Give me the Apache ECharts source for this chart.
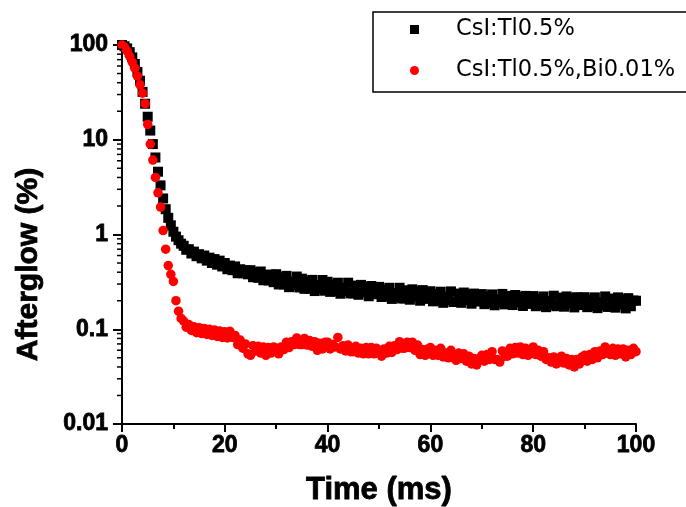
<!DOCTYPE html>
<html>
<head>
<meta charset="utf-8">
<script src="https://cdn.jsdelivr.net/npm/echarts@6/dist/echarts.min.js"></script>
<style>html,body{margin:0;padding:0;background:#fff}#c{width:686px;height:507px}</style>
</head>
<body>
<div id="c"></div>
<script>
var time = [0,0.5,1,1.5,2,2.5,3,3.5,4,4.5,5,5.5,6,6.5,7,7.5,8,8.5,9,9.5,
  10,10.5,11,11.5,12,12.5,13,13.5,14,14.5,15,15.5,16,16.5,17,17.5,18,18.5,19,19.5,
  20,20.5,21,21.5,22,22.5,23,23.5,24,24.5,25,25.5,26,26.5,27,27.5,28,28.5,29,29.5,
  30,30.5,31,31.5,32,32.5,33,33.5,34,34.5,35,35.5,36,36.5,37,37.5,38,38.5,39,39.5,
  40,40.5,41,41.5,42,42.5,43,43.5,44,44.5,45,45.5,46,46.5,47,47.5,48,48.5,49,49.5,
  50,50.5,51,51.5,52,52.5,53,53.5,54,54.5,55,55.5,56,56.5,57,57.5,58,58.5,59,59.5,
  60,60.5,61,61.5,62,62.5,63,63.5,64,64.5,65,65.5,66,66.5,67,67.5,68,68.5,69,69.5,
  70,70.5,71,71.5,72,72.5,73,73.5,74,74.5,75,75.5,76,76.5,77,77.5,78,78.5,79,79.5,
  80,80.5,81,81.5,82,82.5,83,83.5,84,84.5,85,85.5,86,86.5,87,87.5,88,88.5,89,89.5,
  90,90.5,91,91.5,92,92.5,93,93.5,94,94.5,95,95.5,96,96.5,97,97.5,98,98.5,99,99.5,100];
var cslTl = [100,97,92,84,74,63,52,42,32,24,17.5,12.5,9.0,6.5,4.6,3.3,2.4,1.85,1.5,1.25,
  1.07,0.95,0.87,0.8,0.76,0.69,0.70,0.63,0.66,0.59,0.62,0.56,0.60,0.53,0.57,0.50,0.55,0.48,0.53,0.46,
  0.50,0.43,0.47,0.42,0.46,0.39,0.43,0.39,0.42,0.38,
  0.42,0.354,0.40,0.349,0.407,0.329,0.374,0.327,0.378,0.314,
  0.381,0.297,0.354,0.297,0.366,0.278,0.32,0.292,0.36,0.276,
  0.342,0.267,0.318,0.268,0.332,0.253,0.292,0.267,0.331,0.255,
  0.317,0.248,0.298,0.252,0.31,0.237,0.275,0.251,0.31,0.239,
  0.239,0.289,0.231,0.294,0.246,0.279,0.223,0.286,0.234,0.268,
  0.28,0.219,0.262,0.222,0.274,0.209,0.241,0.22,0.274,0.211,
  0.212,0.258,0.205,0.264,0.221,0.252,0.2,0.259,0.209,0.24,
  0.252,0.197,0.237,0.2,0.249,0.19,0.221,0.202,0.251,0.194,
  0.195,0.238,0.19,0.244,0.204,0.232,0.186,0.238,0.196,0.224,
  0.235,0.184,0.221,0.188,0.233,0.179,0.208,0.19,0.236,0.183,
  0.185,0.225,0.18,0.23,0.193,0.219,0.176,0.225,0.185,0.212,
  0.224,0.175,0.211,0.179,0.222,0.171,0.198,0.182,0.226,0.175,
  0.177,0.216,0.173,0.222,0.186,0.212,0.17,0.218,0.18,0.207,
  0.218,0.171,0.206,0.175,0.217,0.167,0.193,0.178,0.222,0.172,
  0.174,0.211,0.169,0.217,0.182,0.206,0.166,0.213,0.175,0.201,
  0.20];
var cslTlBi = [100,95,86,76,66,57,47,38,31,24,14.5,9,6.1,4.0,2.75,1.95,1.1,0.7,0.47,0.38,
  0.32,0.2,0.155,0.13,0.122,0.105,0.112,0.097,0.106,0.092,0.104,0.09,0.102,0.088,0.1,0.086,0.098,0.084,0.096,0.082,
  0.094,0.081,0.095,0.082,0.086,0.069,0.077,0.063,0.07,0.055,
  0.053,0.067,0.059,0.066,0.056,0.065,0.053,0.064,0.056,0.065,
  0.063,0.055,0.065,0.061,0.073,0.064,0.074,0.069,0.081,0.069,
  0.069,0.08,0.068,0.076,0.066,0.074,0.06,0.071,0.062,0.073,
  0.073,0.062,0.069,0.065,0.082,0.062,0.067,0.059,0.068,0.058,
  0.058,0.066,0.056,0.063,0.055,0.064,0.055,0.064,0.055,0.063,
  0.06,0.052,0.062,0.056,0.066,0.057,0.067,0.061,0.074,0.063,
  0.063,0.073,0.064,0.073,0.06,0.068,0.054,0.061,0.053,0.062,
  0.064,0.053,0.06,0.053,0.063,0.051,0.056,0.05,0.06,0.05,
  0.047,0.056,0.049,0.055,0.046,0.052,0.043,0.049,0.042,0.049,
  0.053,0.046,0.054,0.048,0.058,0.048,0.048,0.045,0.059,0.052,
  0.052,0.063,0.055,0.064,0.056,0.065,0.054,0.063,0.053,0.062,
  0.065,0.054,0.06,0.052,0.058,0.048,0.05,0.045,0.051,0.043,
  0.045,0.052,0.044,0.049,0.042,0.048,0.04,0.048,0.043,0.051,
  0.053,0.046,0.054,0.048,0.058,0.05,0.059,0.054,0.065,0.056,
  0.054,0.063,0.053,0.062,0.055,0.062,0.051,0.06,0.054,0.063,
  0.058];
var seriesNames = ['CsI:Tl0.5%', 'CsI:Tl0.5%,Bi0.01%'];
var xTicks = [0, 20, 40, 60, 80, 100];
var yMinorTicks = [0.02,0.03,0.04,0.05,0.06,0.07,0.08,0.09,0.2,0.3,0.4,0.5,0.6,0.7,0.8,0.9,
  2,3,4,5,6,7,8,9,20,30,40,50,60,70,80,90];

function pairs(xs, ys) { return xs.map(function (x, i) { return [x, ys[i]]; }); }

var boldText = {
  color: '#000', fontFamily: 'Liberation Sans', fontWeight: 'bold',
  textBorderColor: '#000', textBorderWidth: 0.8
};

var chart = echarts.init(document.getElementById('c'), null, { renderer: 'canvas' });
chart.setOption({
  animation: false,
  backgroundColor: '#fff',
  grid: { left: 122, right: 50, top: 45, bottom: 83, containLabel: false, outerBoundsMode: 'none' },
  legend: {
    orient: 'vertical', left: 373, top: 12,
    data: seriesNames,
    borderColor: '#000', borderWidth: 1.5, borderRadius: 0,
    padding: [6, 12, 10, 37],
    itemWidth: 9, itemHeight: 9, itemGap: 18,
    textStyle: { fontFamily: 'DejaVu Sans', fontSize: 22.5, color: '#000', lineHeight: 20, padding: [0, 0, 0, 32] }
  },
  xAxis: {
    type: 'value', min: 0, max: 100, interval: 20,
    name: 'Time (ms)', nameLocation: 'middle', nameGap: 51,
    nameTextStyle: Object.assign({ fontSize: 31 }, boldText),
    axisLine: { show: true, lineStyle: { color: '#000', width: 2 } },
    axisTick: { show: true, inside: false, length: 8, lineStyle: { color: '#000', width: 2 } },
    minorTick: { show: true, splitNumber: 2, length: 5, lineStyle: { color: '#000', width: 2 } },
    axisLabel: Object.assign({ fontSize: 23, margin: 10 }, boldText, {
      formatter: function (v) { return xTicks.indexOf(v) >= 0 ? String(v) : ''; }
    }),
    splitLine: { show: false }
  },
  yAxis: {
    type: 'log', logBase: 10, min: 0.01, max: 100,
    name: 'Afterglow (%)', nameLocation: 'middle', nameGap: 78,
    nameTextStyle: Object.assign({ fontSize: 30, padding: [0, 60, 0, 0] }, boldText),
    axisLine: { show: true, lineStyle: { color: '#000', width: 2 } },
    axisTick: { show: true, inside: false, length: 9, lineStyle: { color: '#000', width: 2 } },
    axisLabel: Object.assign({ fontSize: 23, margin: 14 }, boldText),
    splitLine: { show: false }
  },
  series: [{
    name: 'minorTicks', type: 'custom', silent: true, clip: false, z: 10,
    data: yMinorTicks.map(function (v) { return [0, v]; }),
    renderItem: function (params, api) {
      var p = api.coord([api.value(0), api.value(1)]);
      return { type: 'line', shape: { x1: p[0] - 5, y1: p[1], x2: p[0], y2: p[1] },
        style: { stroke: '#000', lineWidth: 1.5 } };
    }
  }, {
    name: seriesNames[0], type: 'scatter',
    symbol: 'rect', symbolSize: 10, clip: false,
    itemStyle: { color: '#000', opacity: 1 },
    data: pairs(time, cslTl)
  }, {
    name: seriesNames[1], type: 'scatter',
    symbol: 'circle', symbolSize: 9.5, clip: false,
    itemStyle: { color: '#ff0000', opacity: 1 },
    data: pairs(time, cslTlBi)
  }]
});
</script>
</body>
</html>
